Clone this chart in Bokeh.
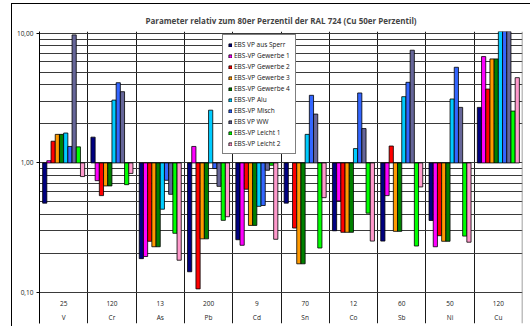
import math
from bokeh.plotting import figure
from bokeh.models import (Range1d, FixedTicker, CustomJSTickFormatter, Legend,
                          LegendItem, ColumnDataSource, Grid)
from bokeh.core.properties import value
from bokeh.embed import file_html
from bokeh.resources import INLINE

# Elements and their reference values (80th percentile, Cu: 50th)
elements = ["V", "Cr", "As", "Pb", "Cd", "Sn", "Co", "Sb", "Ni", "Cu"]
limits = ["25", "120", "13", "200", "9", "70", "12", "60", "50", "120"]

series_names = ["EBS VP aus Sperr", "EBS-VP Gewerbe 1", "EBS-VP Gewerbe 2",
                "EBS-VP Gewerbe 3", "EBS-VP Gewerbe 4", "EBS-VP Alu",
                "EBS-VP Misch", "EBS VP WW", "EBS-VP Leicht 1", "EBS-VP Leicht 2"]
series_colors = ["#000080", "#FF00FF", "#FF0000", "#FF9900", "#008000",
                 "#00CCFF", "#3366FF", "#666699", "#00FF00", "#FF99CC"]

nan = float("nan")
aus_sperr = [0.49, 1.58, 0.183, 0.145, 0.256, 0.49, 0.30, 0.25, 0.36, 2.68]
gewerbe_1 = [1.04, 0.73, 0.19, 1.34, 0.232, nan, 0.51, 0.56, 0.226, 6.6]
gewerbe_2 = [1.47, 0.56, 0.249, 0.107, 0.627, 0.315, 0.292, 1.35, 0.275, 3.71]
gewerbe_3 = [1.66, 0.665, 0.226, 0.26, 0.33, 0.167, 0.292, 0.297, 0.249, 6.33]
gewerbe_4 = [1.66, 0.665, 0.226, 0.26, 0.33, 0.167, 0.292, 0.297, 0.249, 6.33]
alu = [1.70, 3.05, 0.44, 2.55, 0.463, 1.66, 1.29, 3.24, 3.11, 12.0]
misch = [1.34, 4.15, 0.735, 0.905, 0.47, 3.32, 3.46, 4.18, 5.46, 14.0]
ww = [9.7, 3.54, 0.573, 0.66, 0.878, 2.38, 1.84, 7.39, 2.68, 13.0]
leicht_1 = [1.33, 0.68, 0.287, 0.361, 0.96, 0.221, 0.41, 0.229, 0.273, 2.51]
leicht_2 = [0.785, 0.83, 0.178, 0.385, 0.258, 0.54, 0.25, 0.653, 0.245, 4.54]

series_values = [aus_sperr, gewerbe_1, gewerbe_2, gewerbe_3, gewerbe_4,
                 alu, misch, ww, leicht_1, leicht_2]

FONT = "Open Sans"
n_cat = len(elements)
bar_w = 0.087

p = figure(width=519, height=323, x_range=Range1d(0, n_cat),
           y_range=Range1d(0.0579, 10.3), y_axis_type="log",
           output_backend="svg", toolbar_location=None, x_axis_location=None,
           min_border_left=27, min_border_right=9, min_border_top=27,
           min_border_bottom=4,
           styles={"margin-left": "11px", "margin-top": "3px",
                   "border-left": "1px solid #000", "border-top": "1px solid #000"})

p.title.text = "Parameter relativ zum 80er Perzentil der RAL 724 (Cu 50er Perzentil)"
p.title.align = "center"
p.title.text_font = FONT
p.title.text_font_size = "8px"
p.title.text_font_style = "bold"
p.title.offset = -10
p.title.standoff = 12

p.outline_line_color = None
p.background_fill_color = "white"
p.border_fill_color = "white"

# horizontal grid: every decade step on the log scale
grid_ticks = [k / 10 for k in range(1, 10)] + [float(k) for k in range(1, 11)]
p.ygrid.ticker = FixedTicker(ticks=grid_ticks)
p.ygrid.grid_line_color = "#3a3a3a"
p.ygrid.grid_line_width = 1
p.xgrid.ticker = FixedTicker(ticks=list(range(1, n_cat)))
p.xgrid.grid_line_color = "#1a1a1a"
p.xgrid.grid_line_width = 1
p.add_layout(Grid(dimension=0, ticker=FixedTicker(ticks=[n_cat - 0.01]),
                  grid_line_color="#808080", grid_line_width=1.5))

ax = p.yaxis[0]
ax.ticker = FixedTicker(ticks=[0.1, 1, 10])
ax.formatter = CustomJSTickFormatter(code="return tick.toFixed(2).replace('.', ',');")
ax.minor_tick_line_color = None
ax.major_tick_out = 3
ax.major_tick_in = 0
ax.major_label_standoff = 3
ax.major_label_text_font = FONT
ax.major_label_text_font_size = "6.5px"
ax.major_label_text_color = "#222222"
ax.axis_line_color = "black"
ax.axis_line_width = 1

items = []
for j, (name, color, vals) in enumerate(zip(series_names, series_colors, series_values)):
    xs, tops = [], []
    for i, v in enumerate(vals):
        if math.isnan(v):
            continue
        xs.append(i + 0.5 + (j - 4.5) * bar_w)
        tops.append(v)
    src = ColumnDataSource(dict(x=xs, top=tops, bottom=[1.0] * len(xs)))
    r = p.vbar(x="x", width=bar_w, bottom="bottom", top="top", source=src,
               fill_color=color, line_color="black", line_width=0.8)
    items.append(LegendItem(label=name, renderers=[r]))

# category labels below the 0,10 line
centers = [i + 0.5 for i in range(n_cat)]
p.text(x=centers, y=[0.0831] * n_cat, text=limits, text_align="center",
       text_baseline="middle", text_font=value(FONT), text_font_size="6.5px",
       text_color="#222222")
p.text(x=centers, y=[0.0644] * n_cat, text=elements, text_align="center",
       text_baseline="middle", text_font=value(FONT), text_font_size="6.5px",
       text_color="#222222")

legend = Legend(items=items, location=(183, 169))
legend.border_line_color = "black"
legend.border_line_width = 1
legend.background_fill_color = "white"
legend.background_fill_alpha = 1
legend.padding = 5
legend.margin = 0
legend.spacing = 2
legend.label_height = 8
legend.glyph_height = 4
legend.glyph_width = 4
legend.label_standoff = 2
legend.label_text_font = FONT
legend.label_text_font_size = "6.5px"
legend.label_text_color = "#111111"
p.add_layout(legend)

open("out.html", "w").write(file_html(p, INLINE))
